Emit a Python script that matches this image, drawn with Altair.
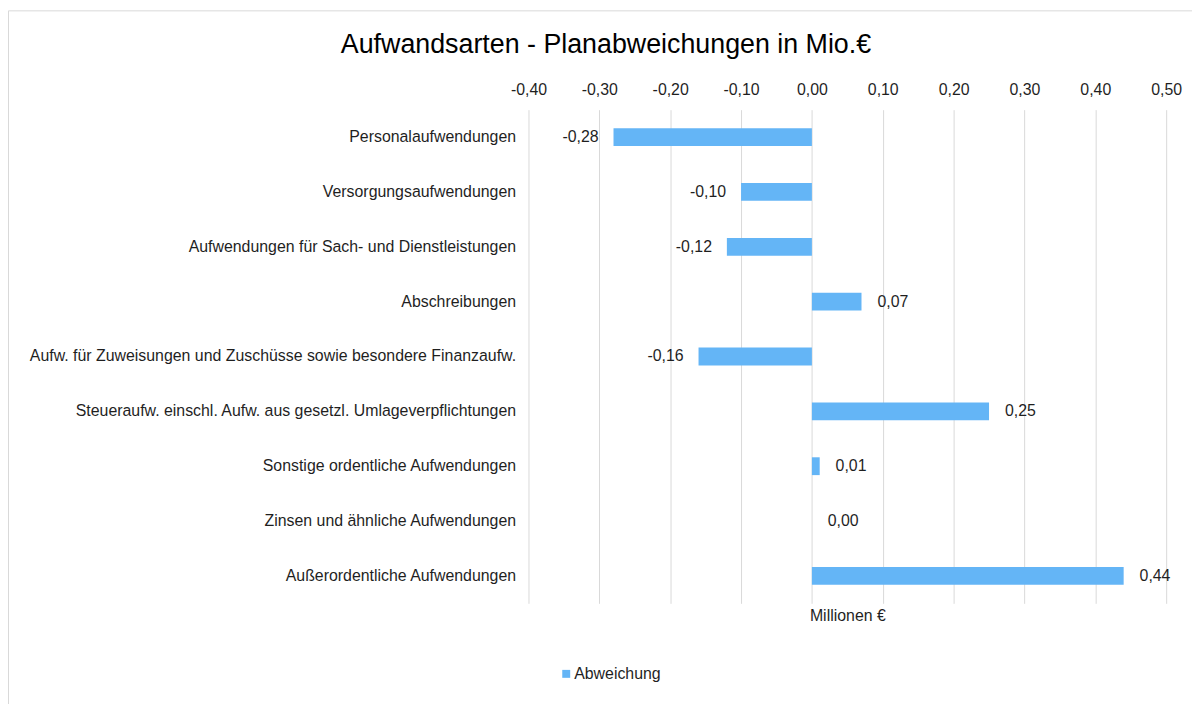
import altair as alt
import pandas as pd

categories = [
    "Personalaufwendungen",
    "Versorgungsaufwendungen",
    "Aufwendungen für Sach- und Dienstleistungen",
    "Abschreibungen",
    "Aufw. für Zuweisungen und Zuschüsse sowie besondere Finanzaufw.",
    "Steueraufw. einschl. Aufw. aus gesetzl. Umlageverpflichtungen",
    "Sonstige ordentliche Aufwendungen",
    "Zinsen und ähnliche Aufwendungen",
    "Außerordentliche Aufwendungen",
]
values = [-0.28, -0.10, -0.12, 0.07, -0.16, 0.25, 0.011, 0.0, 0.44]
series_name = "Abweichung"
tick_values = [-0.4, -0.3, -0.2, -0.1, 0.0, 0.1, 0.2, 0.3, 0.4, 0.5]


def fmt(v):
    s = f"{abs(v):.2f}".replace(".", ",")
    return ("-" + s) if v < 0 else s


df = pd.DataFrame({
    "kategorie": categories,
    "wert": values,
    "label": [fmt(v) for v in values],
    "serie": [series_name] * len(values),
})

FONT = "Liberation Sans"
TXT = "#1f1f1f"
GRID = "#d9d9d9"
BAR = "#64B5F6"

PAD_L, PAD_T = 524, 100
W, H = 642, 497

xscale = alt.Scale(domain=[-0.4, 0.5], nice=False, zero=False)
yenc = alt.Y(
    "kategorie:N",
    sort=categories,
    scale=alt.Scale(paddingInner=0.675, paddingOuter=0.3375),
    axis=alt.Axis(title=None, domain=False, ticks=False, grid=False,
                  labelFont=FONT, labelFontSize=16, labelColor=TXT,
                  labelPadding=13, labelLimit=600),
)

label_expr = "(datum.value < 0 ? '-' : '') + replace(format(abs(datum.value), '.2f'), '.', ',')"

base = alt.Chart(df)

bars = base.mark_bar().encode(
    x=alt.X("wert:Q", scale=xscale,
            axis=alt.Axis(orient="top", title=None, values=tick_values,
                          labelExpr=label_expr, domain=False, ticks=False, tickSize=0,
                          grid=True, gridColor=GRID, gridWidth=1,
                          labelFont=FONT, labelFontSize=16, labelColor=TXT,
                          labelPadding=12, labelFlush=False)),
    y=yenc,
    color=alt.Color("serie:N", scale=alt.Scale(range=[BAR]),
                    legend=alt.Legend(orient="none", legendX=562 - 8 - PAD_L, legendY=560,
                                      title=None, symbolType="square", symbolSize=64,
                                      symbolStrokeWidth=0, labelFont=FONT,
                                      labelFontSize=16, labelColor=TXT,
                                      labelOffset=0, padding=0)),
)

neg = base.transform_filter("datum.wert < 0").mark_text(
    align="right", baseline="middle", dx=-15, font=FONT, fontSize=16, color=TXT
).encode(
    x=alt.X("wert:Q", scale=xscale, axis=None),
    y=alt.Y("kategorie:N", sort=categories),
    text="label:N",
)

pos = base.transform_filter("datum.wert >= 0").mark_text(
    align="left", baseline="middle", dx=16, font=FONT, fontSize=16, color=TXT
).encode(
    x=alt.X("wert:Q", scale=xscale,
            axis=alt.Axis(orient="bottom", title="Millionen €", labels=False,
                          ticks=False, domain=False, grid=False,
                          titleFont=FONT, titleFontSize=16, titleFontWeight="normal",
                          titleColor=TXT, titlePadding=4)),
    y=alt.Y("kategorie:N", sort=categories),
    text="label:N",
)

frame = alt.Chart(pd.DataFrame({"f": [0]})).mark_rect(
    fillOpacity=0, stroke=GRID, strokeWidth=1
).encode(
    x=alt.value(-PAD_L + 0.5), x2=alt.value(1000),
    y=alt.value(-PAD_T + 0.5), y2=alt.value(1000),
)

chart = alt.layer(frame, bars, neg, pos).resolve_axis(x="independent").properties(
    width=W,
    height=H,
    autosize=alt.AutoSizeParams(type="none"),
    padding={"left": PAD_L, "top": PAD_T, "right": 1192 - PAD_L - W, "bottom": 696 - PAD_T - H},
    title=alt.Title("Aufwandsarten - Planabweichungen in Mio.€", font=FONT,
                    fontSize=27, fontWeight="normal", color="#000000",
                    anchor="middle", dx=610 - (8 + PAD_L + W / 2), offset=14, dy=63),
).configure(background="white", view=alt.ViewConfig(strokeWidth=0, stroke="transparent"))

chart.save("out.html", embed_options={"renderer": "svg", "actions": False})
